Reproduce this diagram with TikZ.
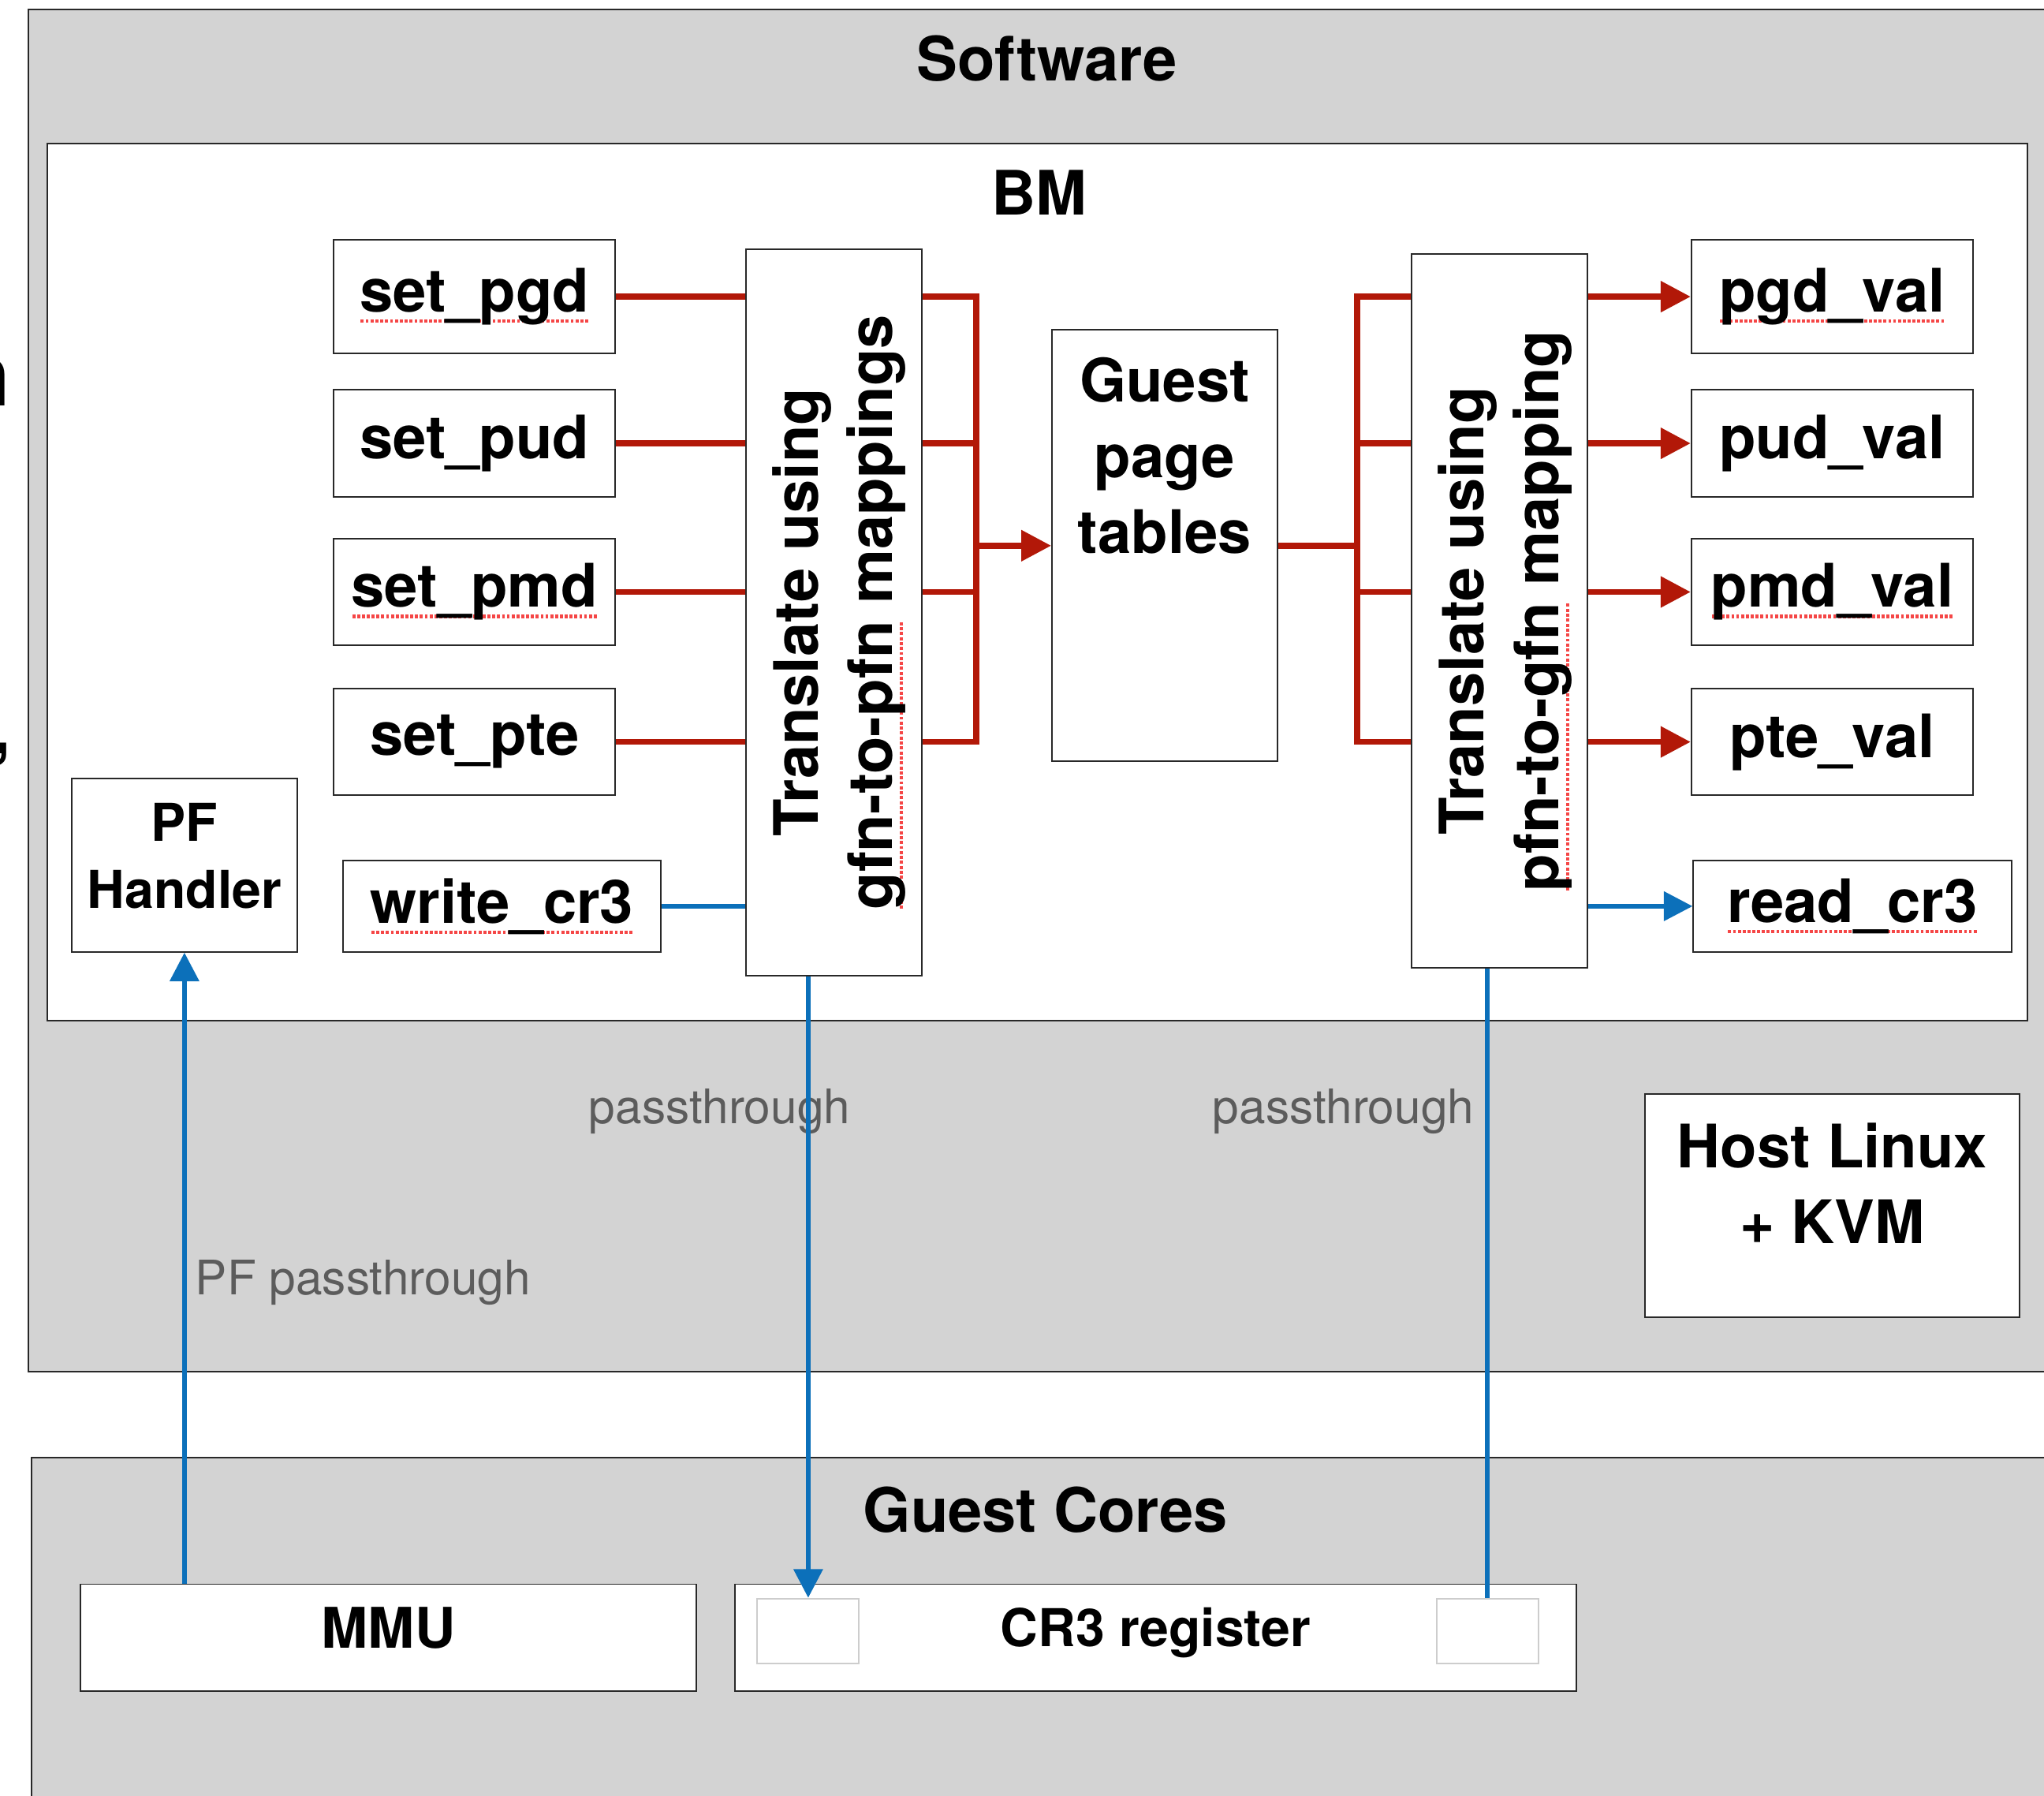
\documentclass[tikz,border=0pt]{standalone}
\usepackage{fontspec}
\setmainfont{TeX Gyre Heros}
\usetikzlibrary{arrows.meta,calc}

\definecolor{panelgray}{RGB}{211,211,211}
\definecolor{linkred}{RGB}{178,24,8}
\definecolor{linkblue}{RGB}{12,112,186}
\definecolor{edgegray}{RGB}{40,40,40}
\definecolor{notegray}{RGB}{92,92,92}
\definecolor{spellred}{RGB}{245,70,70}
\definecolor{slotgray}{RGB}{205,205,205}

% red dotted spell-check underline under a word
\newcommand\spellmark[1]{%
  \setbox0\hbox{#1}%
  \rlap{\color{spellred}\raisebox{-0.18em}{\hbox to \wd0{\xleaders\hbox to 0.08em{\hss\rule{0.05em}{0.055em}\hss}\hfill}}}%
  \box0\relax}

\begin{document}
\begin{tikzpicture}[x=1pt, y=-1pt,
  panel/.style={draw=edgegray, line width=1.3pt, fill=panelgray, inner sep=0pt},
  box/.style={draw=edgegray, line width=1.2pt, fill=white, inner sep=0pt,
    font=\fontsize{46}{56}\selectfont\bfseries},
  slot/.style={draw=slotgray, line width=1.2pt, fill=white, inner sep=0pt,
    minimum width=78pt, minimum height=50pt},
  heading/.style={inner sep=0pt, font=\fontsize{47}{56}\selectfont\bfseries},
  txt/.style={inner sep=0pt, align=center, font=\fontsize{46}{58}\selectfont\bfseries},
  note/.style={inner sep=0pt, text=notegray, font=\fontsize{36.5}{44}\selectfont},
  redlink/.style={linkred, line width=4.6pt, line join=miter},
  redarrow/.style={redlink, -{Triangle[length=23pt,width=23pt]}},
  bluelink/.style={linkblue, line width=3.5pt},
  bluearrow/.style={bluelink, -{Triangle[length=22pt,width=22pt]}},
  fnbox/.style={box, minimum width=216pt, minimum height=84pt}
]
\useasboundingbox (0,0) rectangle (1568,1377);

% outer panels
\node[panel, minimum width=1598pt, minimum height=1045pt] (software) at (821,529.5) {};
\node[panel, minimum width=1596pt, minimum height=302pt] (cores) at (822,1269) {};
\node[box, minimum width=1519pt, minimum height=673pt] (bm) at (795.5,446.5) {};

% fragments of neighbouring text at the left edge
\node[anchor=base east, inner sep=0pt, font=\fontsize{66}{70}\selectfont\bfseries] (edgeN) at (8,311) {n};
\node[anchor=base east, inner sep=0pt, font=\fontsize{56}{70}\selectfont\bfseries] (edgeC) at (9,578) {,};

% titles
\node[heading] (softwareT) at (803,45) {Software};
\node[heading] (bmT) at (797,148) {BM};
\node[heading] (coresT) at (802,1158) {Guest Cores};

% setter calls
\node[fnbox, minimum height=87pt] (spgd) at (364,227.5) {\spellmark{set\_pgd}};
\node[fnbox, minimum height=82pt] (spud) at (364,340) {set\_pud};
\node[fnbox, minimum height=82pt] (spmd) at (364,454) {\spellmark{set\_pmd}};
\node[fnbox, minimum height=82pt] (spte) at (364,569) {set\_pte};
\node[box, minimum width=244pt, minimum height=70pt] (wcr3) at (385,695) {\spellmark{write\_cr3}};

% page fault handler
\node[box, minimum width=173pt, minimum height=133pt] (pfh) at (141.5,663.5) {};
\node[txt, anchor=north, font=\fontsize{40}{51}\selectfont\bfseries] (pfhT) at (141.5,616) {PF\\Handler};

% translation stages
\node[box, minimum width=135pt, minimum height=557pt] (transL) at (639.5,469.5) {};
\node[txt, rotate=90, font=\fontsize{47}{57}\selectfont\bfseries] (transLT) at ($(transL.center)+(4,0)$)
  {Translate using\\\spellmark{gfn-to-pfn} mappings};
\node[box, minimum width=135pt, minimum height=547pt] (transR) at (1150.5,468.5) {};
\node[txt, rotate=90, font=\fontsize{47}{57}\selectfont\bfseries] (transRT) at ($(transR.center)+(4,0)$)
  {Translate using\\\spellmark{pfn-to-gfn} mapping};

% guest page tables
\node[box, minimum width=173pt, minimum height=331pt] (gpt) at (893.5,418.5) {};
\node[txt, anchor=north] (gptT) at (893.5,274) {Guest\\page\\tables};

% getter calls
\node[fnbox, minimum height=87pt] (vpgd) at (1405.5,227.5) {\spellmark{pgd\_val}};
\node[fnbox, minimum height=82pt] (vpud) at (1405.5,340) {pud\_val};
\node[fnbox, minimum height=82pt] (vpmd) at (1405.5,454) {\spellmark{pmd\_val}};
\node[fnbox, minimum height=82pt] (vpte) at (1405.5,569) {pte\_val};
\node[box, minimum width=244pt, minimum height=70pt] (rcr3) at (1421,695) {\spellmark{read\_cr3}};

% host
\node[box, minimum width=287pt, minimum height=171pt] (host) at (1405.5,924.5) {};
\node[txt, anchor=north] (hostT) at (1405.5,861) {Host Linux\\+ KVM};

% hardware
\node[box, minimum width=472pt, minimum height=82pt] (mmu) at (298,1256) {};
\node[txt, font=\fontsize{43}{50}\selectfont\bfseries] (mmuT) at (298,1248.5) {MMU};
\node[box, minimum width=645pt, minimum height=82pt] (cr3) at (886.5,1256) {};
\node[txt, font=\fontsize{40}{50}\selectfont\bfseries] (cr3T) at (886.5,1252) {CR3 register};
\node[slot] (slotA) at (620,1251) {};
\node[slot] (slotB) at (1141,1251) {};

% notes
\node[note, anchor=base] (noteL) at (552,862) {passthrough};
\node[note, anchor=base] (noteR) at (1030.5,862) {passthrough};
\node[note, anchor=base] (notePF) at (278.5,993) {PF passthrough};

% bus coordinates
\coordinate (busL) at (749,0);
\coordinate (busR) at (1041,0);

% setters into the first translation
\foreach \n in {spgd,spud,spmd,spte}
  \draw[redlink] (\n.east) -- (transL.west |- \n.east);
\draw[redlink] (transL.east |- spgd.east) -- (busL |- spgd.east) -- (busL |- spte.east) -- (transL.east |- spte.east);
\draw[redlink] (transL.east |- spud.east) -- (busL |- spud.east);
\draw[redlink] (transL.east |- spmd.east) -- (busL |- spmd.east);
\draw[redarrow] (busL |- gpt.west) -- (gpt.west);

% page tables out through the second translation
\draw[redlink] (gpt.east) -- (busR |- gpt.east);
\draw[redlink] (transR.west |- vpgd.west) -- (busR |- vpgd.west) -- (busR |- vpte.west) -- (transR.west |- vpte.west);
\draw[redlink] (busR |- vpud.west) -- (transR.west |- vpud.west);
\draw[redlink] (busR |- vpmd.west) -- (transR.west |- vpmd.west);
\foreach \n in {vpgd,vpud,vpmd,vpte}
  \draw[redarrow] (transR.east |- \n.west) -- (\n.west);

% CR3 paths
\draw[bluelink] (wcr3.east) -- (transL.west |- wcr3.east);
\draw[bluearrow] (transR.east |- rcr3.west) -- (rcr3.west);
\draw[bluearrow] (slotA.north |- transL.south) -- (slotA.north);
\draw[bluelink] (slotB.north) -- (slotB.north |- transR.south);
\draw[bluearrow] (pfh.south |- mmu.north) -- (pfh.south);
\end{tikzpicture}
\end{document}
